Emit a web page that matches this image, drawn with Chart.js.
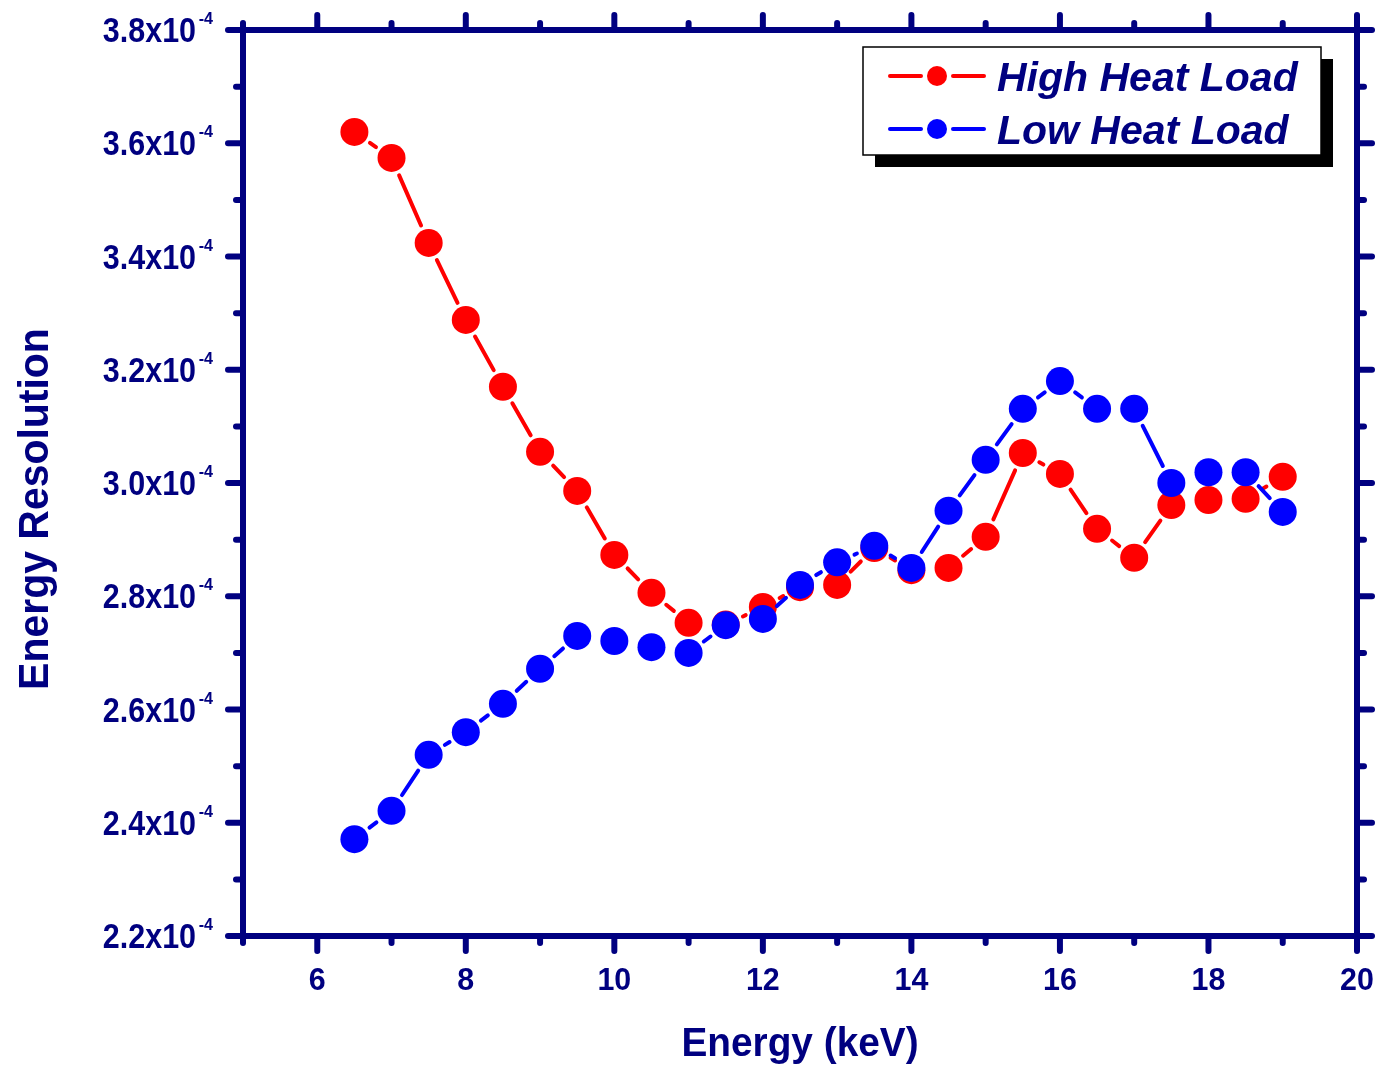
<!DOCTYPE html>
<html lang="en">
<head>
    <meta charset="UTF-8">
    <title>Energy Resolution</title>
    <script src="https://cdn.jsdelivr.net/npm/chart.js"></script>
    <style>
        body {
            margin: 0;
            background-color: white;
        }
        #wrap {
            width: 1381px;
            height: 1068px;
        }
    </style>
</head>
<body>
    <div id="wrap"><canvas id="myChart"></canvas></div>

    <script>
        // Energy (keV) and resolution in units of 1e-4
        const energy = [6.5, 7, 7.5, 8, 8.5, 9, 9.5, 10, 10.5, 11, 11.5, 12, 12.5,
                        13, 13.5, 14, 14.5, 15, 15.5, 16, 16.5, 17, 17.5, 18, 18.5, 19];
        const highHeatLoad = [3.620, 3.574, 3.424, 3.288, 3.170, 3.055, 2.986, 2.873, 2.806,
                              2.753, 2.750, 2.781, 2.816, 2.820, 2.885, 2.846, 2.850, 2.905,
                              3.053, 3.016, 2.919, 2.868, 2.961, 2.970, 2.972, 3.011];
        const lowHeatLoad = [2.371, 2.421, 2.520, 2.560, 2.610, 2.672, 2.730, 2.721, 2.710,
                             2.700, 2.749, 2.760, 2.820, 2.860, 2.889, 2.850, 2.951, 3.041,
                             3.131, 3.180, 3.131, 3.131, 3.000, 3.019, 3.019, 2.949];
        const seriesNames = ['High Heat Load', 'Low Heat Load'];

        const xTicks = [6, 8, 10, 12, 14, 16, 18, 20];
        const xMinorTicks = [5, 7, 9, 11, 13, 15, 17, 19];
        const yTicks = [2.2, 2.4, 2.6, 2.8, 3.0, 3.2, 3.4, 3.6, 3.8];
        const yMinorTicks = [2.3, 2.5, 2.7, 2.9, 3.1, 3.3, 3.5, 3.7];

        const NAVY = '#000080';
        const FONT = '"Liberation Sans", Arial, sans-serif';

        // Origin style connecting lines: straight segments that stop short of each marker
        const gappedLines = {
            id: 'gappedLines',
            beforeDatasetDraw(chart, args) {
                const ctx = chart.ctx;
                const pts = args.meta.data;
                const ds = chart.data.datasets[args.index];
                const gap = 19;
                ctx.save();
                ctx.strokeStyle = ds.pointBackgroundColor;
                ctx.lineWidth = 4;
                ctx.lineCap = 'round';
                for (let i = 0; i < pts.length - 1; i++) {
                    const a = pts[i], b = pts[i + 1];
                    const dx = b.x - a.x, dy = b.y - a.y;
                    const len = Math.hypot(dx, dy);
                    if (len <= 2 * gap + 2) continue;
                    const ux = dx / len, uy = dy / len;
                    ctx.beginPath();
                    ctx.moveTo(a.x + ux * gap, a.y + uy * gap);
                    ctx.lineTo(b.x - ux * gap, b.y - uy * gap);
                    ctx.stroke();
                }
                ctx.restore();
            }
        };

        // text squeezed horizontally by sx
        function narrowText(ctx, text, x, y, sx) {
            ctx.save();
            ctx.translate(x, y);
            ctx.scale(sx, 1);
            ctx.fillText(text, 0, 0);
            ctx.restore();
        }

        // Frame, tick marks, tick labels, axis titles and legend box
        const frameAndLabels = {
            id: 'frameAndLabels',
            afterDraw(chart) {
                const ctx = chart.ctx;
                const area = chart.chartArea;
                const xs = chart.scales.x, ys = chart.scales.y;
                ctx.save();
                ctx.strokeStyle = NAVY;
                ctx.fillStyle = NAVY;
                ctx.lineWidth = 6;
                ctx.lineCap = 'round';

                const tick = (x1, y1, x2, y2) => {
                    ctx.beginPath();
                    ctx.moveTo(x1, y1);
                    ctx.lineTo(x2, y2);
                    ctx.stroke();
                };

                xTicks.concat(xMinorTicks).forEach(v => {
                    const len = xTicks.includes(v) ? 15 : 7;
                    const px = xs.getPixelForValue(v);
                    tick(px, area.bottom, px, area.bottom + len);
                    tick(px, area.top, px, area.top - len);
                });
                yTicks.concat(yMinorTicks).forEach(v => {
                    const len = yTicks.includes(v) ? 15 : 7;
                    const py = ys.getPixelForValue(v);
                    tick(area.left, py, area.left - len, py);
                    tick(area.right, py, area.right + len, py);
                });

                ctx.lineCap = 'butt';
                ctx.strokeRect(area.left, area.top, area.right - area.left, area.bottom - area.top);

                // x tick labels
                ctx.font = 'bold 32px ' + FONT;
                ctx.textAlign = 'center';
                ctx.textBaseline = 'alphabetic';
                xTicks.forEach(v => {
                    narrowText(ctx, String(v), xs.getPixelForValue(v), 990, 0.95);
                });

                // y tick labels with exponent
                ctx.textAlign = 'right';
                yTicks.forEach(v => {
                    const py = ys.getPixelForValue(v);
                    ctx.font = 'bold 17px ' + FONT;
                    narrowText(ctx, '-4', 213, py - 6, 0.95);
                    ctx.font = 'bold 35px ' + FONT;
                    narrowText(ctx, v.toFixed(1) + 'x10', 196, py + 12, 0.87);
                });

                // axis titles
                ctx.font = 'bold 40px ' + FONT;
                ctx.textAlign = 'center';
                narrowText(ctx, 'Energy (keV)', 800, 1056, 0.97);
                ctx.save();
                ctx.translate(48, 509);
                ctx.rotate(-Math.PI / 2);
                ctx.font = 'bold 42px ' + FONT;
                narrowText(ctx, 'Energy Resolution', 0, 0, 0.975);
                ctx.restore();

                // legend with drop shadow
                const lx = 863, ly = 47, lw = 458, lh = 108;
                ctx.fillStyle = 'black';
                ctx.fillRect(lx + 12, ly + 12, lw, lh);
                ctx.fillStyle = 'white';
                ctx.fillRect(lx, ly, lw, lh);
                ctx.strokeStyle = 'black';
                ctx.lineWidth = 1.5;
                ctx.strokeRect(lx, ly, lw, lh);

                chart.data.datasets.forEach((ds, i) => {
                    const cy = 76 + i * 53;
                    ctx.strokeStyle = ds.pointBackgroundColor;
                    ctx.fillStyle = ds.pointBackgroundColor;
                    ctx.lineWidth = 4;
                    ctx.lineCap = 'round';
                    tick(890, cy, 921, cy);
                    tick(953, cy, 984, cy);
                    ctx.beginPath();
                    ctx.arc(937, cy, 10, 0, Math.PI * 2);
                    ctx.fill();
                    ctx.fillStyle = NAVY;
                    ctx.font = 'italic bold 41px ' + FONT;
                    ctx.textAlign = 'left';
                    ctx.fillText(ds.label, 997, cy + 15);
                });
                ctx.restore();
            }
        };

        const ctx = document.getElementById('myChart').getContext('2d');

        const makeSeries = (label, values, color, order) => ({
            label: label,
            data: energy.map((e, i) => ({ x: e, y: values[i] })),
            order: order,
            showLine: false,
            pointRadius: 14,
            pointHoverRadius: 14,
            pointBorderWidth: 0,
            pointBackgroundColor: color,
            pointBorderColor: color,
            borderColor: color
        });

        new Chart(ctx, {
            type: 'line',
            data: {
                datasets: [
                    // blue markers sit above the red ones
                    makeSeries(seriesNames[0], highHeatLoad, '#FF0000', 1),
                    makeSeries(seriesNames[1], lowHeatLoad, '#0000FF', 0)
                ]
            },
            options: {
                responsive: true,
                maintainAspectRatio: false,
                animation: false,
                layout: {
                    padding: { left: 243, right: 24, top: 30, bottom: 132 }
                },
                plugins: {
                    legend: { display: false },
                    tooltip: { enabled: false }
                },
                scales: {
                    x: { type: 'linear', min: 5, max: 20, display: false },
                    y: { type: 'linear', min: 2.2, max: 3.8, display: false }
                }
            },
            plugins: [gappedLines, frameAndLabels]
        });
    </script>
</body>
</html>
